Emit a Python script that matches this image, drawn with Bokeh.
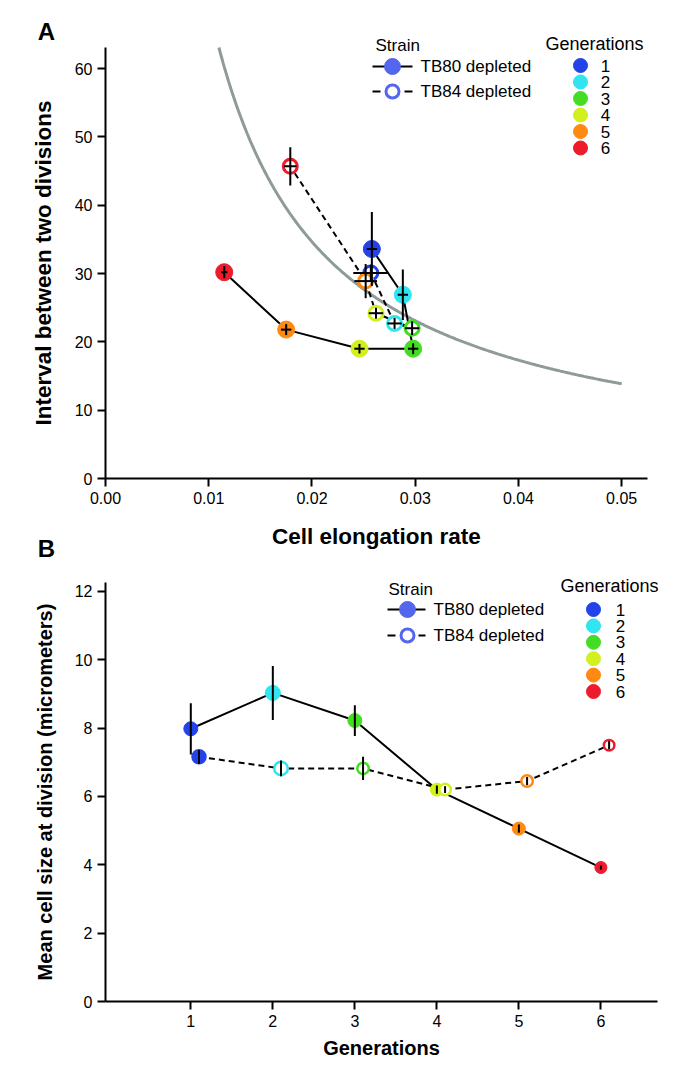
import numpy as np
from bokeh.plotting import figure
from bokeh.layouts import column
from bokeh.models import Label, Range1d, FixedTicker, NumeralTickFormatter
from bokeh.embed import file_html
from bokeh.resources import INLINE

FONT = "Liberation Sans"

# ---------------- data ----------------
generations = [1, 2, 3, 4, 5, 6]
gen_labels = ["1", "2", "3", "4", "5", "6"]
gen_colors = ["#2343e8", "#30e4f0", "#45dc25", "#d2f01e", "#ff8a12", "#ec1c2c"]
strain_labels = ["TB80 depleted", "TB84 depleted"]

# Panel A: cell elongation rate vs interval between two divisions
a_tb80_rate = [0.0258, 0.0288, 0.0298, 0.0246, 0.0175, 0.0115]
a_tb80_rate_err = [0.0005, 0.0005, 0.0005, 0.0005, 0.0005, 0.0003]
a_tb80_interval = [33.6, 26.9, 19.0, 19.0, 21.8, 30.2]
a_tb80_interval_err = [5.4, 3.7, 0.8, 0.7, 0.8, 0.9]

a_tb84_rate = [0.0257, 0.0280, 0.0297, 0.0262, 0.0252, 0.0179]
a_tb84_rate_err = [0.0017, 0.0007, 0.0007, 0.0007, 0.0011, 0.0006]
a_tb84_interval = [30.1, 22.7, 22.0, 24.2, 28.9, 45.7]
a_tb84_interval_err = [1.2, 0.8, 1.0, 0.8, 2.5, 2.8]

a_x_ticks = [0.0, 0.01, 0.02, 0.03, 0.04, 0.05]
a_y_ticks = [0, 10, 20, 30, 40, 50, 60]

# Panel B: mean cell size at division per generation
b_tb80_size = [7.98, 9.03, 8.22, 6.20, 5.06, 3.92]
b_tb80_size_err = [0.75, 0.79, 0.45, 0.12, 0.12, 0.06]
b_tb84_size = [7.16, 6.82, 6.82, 6.20, 6.45, 7.50]
b_tb84_size_err = [0.20, 0.23, 0.34, 0.10, 0.12, 0.12]

b_x_ticks = [1, 2, 3, 4, 5, 6]
b_y_ticks = [0, 2, 4, 6, 8, 10, 12]

# ---------------- styles ----------------
LEG_BLUE = "#5566ee"
CURVE = "#8f9b98"
TB84_OFFSET = 0.1
W = 678


def style_axes(p, label_px, tick_px, xstand, ystand):
    for ax in (p.xaxis[0], p.yaxis[0]):
        ax.axis_line_width = 2
        ax.axis_line_color = "black"
        ax.major_tick_line_width = 2
        ax.major_tick_line_color = "black"
        ax.major_tick_out = 8
        ax.major_tick_in = 0
        ax.minor_tick_out = 0
        ax.minor_tick_in = 0
        ax.major_label_text_font = FONT
        ax.major_label_text_font_size = f"{tick_px}px"
        ax.major_label_text_color = "black"
        ax.major_label_standoff = 5
        ax.axis_label_text_font = FONT
        ax.axis_label_text_font_style = "bold"
        ax.axis_label_text_font_size = f"{label_px}px"
        ax.axis_label_text_color = "black"
    p.xaxis[0].axis_label_standoff = xstand
    p.yaxis[0].axis_label_standoff = ystand
    p.xgrid.visible = False
    p.ygrid.visible = False
    p.outline_line_color = None
    p.background_fill_color = "white"
    p.border_fill_color = "white"


def txt(p, x, y, s, size, align="left", bold=False):
    p.add_layout(Label(x=x, y=y, text=s, text_font=FONT, text_font_size=f"{size}px",
                       text_align=align, text_baseline="middle", text_color="black",
                       text_font_style="bold" if bold else "normal"))


# ================= Panel A =================
# axis extent (data) and where it sits on the canvas (pixels)
AX0, AX1, AY0, AY1 = 0.0, 0.0525, 0.0, 63.1
A_L, A_R, A_T, A_B = 105, 647, 47, 478
A_H = 570
a_sx = (AX1 - AX0) / (A_R - A_L)
a_sy = (AY1 - AY0) / (A_B - A_T)


def ax(px):
    return AX0 + (px - A_L) * a_sx


def ay(py):
    return AY0 + (A_B - py) * a_sy


pA = figure(width=W, height=A_H, x_range=Range1d(ax(0), ax(W)), y_range=Range1d(ay(A_H), ay(0)),
            output_backend="svg", toolbar_location=None, title=None,
            min_border_left=0, min_border_right=0, min_border_top=0, min_border_bottom=0,
            x_axis_label="Cell elongation rate", y_axis_label="Interval between two divisions")
style_axes(pA, 22.5, 16, 17, 16)
pA.xaxis[0].ticker = FixedTicker(ticks=a_x_ticks)
pA.xaxis[0].formatter = NumeralTickFormatter(format="0.00")
pA.yaxis[0].ticker = FixedTicker(ticks=a_y_ticks)
pA.xaxis[0].fixed_location = AY0
pA.yaxis[0].fixed_location = AX0
pA.xaxis[0].bounds = (AX0, AX1)
pA.yaxis[0].bounds = (AY0, AY1)

# reference curve: doubling time = ln2 / rate
cx = np.linspace(np.log(2) / AY1, 0.05, 300)
pA.line(cx, np.log(2) / cx, line_color=CURVE, line_width=3)

pA.line(a_tb80_rate, a_tb80_interval, line_color="black", line_width=2)
pA.line(a_tb84_rate, a_tb84_interval, line_color="black", line_width=2, line_dash="6 4")

pA.scatter(a_tb80_rate, a_tb80_interval, size=17, fill_color=gen_colors, line_color=gen_colors)
pA.scatter(a_tb84_rate, a_tb84_interval, size=14, fill_color="white", line_color=gen_colors,
           line_width=3)

for xs, ys, xe, ye in ((a_tb80_rate, a_tb80_interval, a_tb80_rate_err, a_tb80_interval_err),
                       (a_tb84_rate, a_tb84_interval, a_tb84_rate_err, a_tb84_interval_err)):
    xs_, ys_, xe_, ye_ = map(np.array, (xs, ys, xe, ye))
    pA.segment(x0=xs_ - xe_, y0=ys_, x1=xs_ + xe_, y1=ys_, line_color="black", line_width=2)
    pA.segment(x0=xs_, y0=ys_ - ye_, x1=xs_, y1=ys_ + ye_, line_color="black", line_width=2)

# legend A
txt(pA, ax(375), ay(45), "Strain", 17)
pA.segment(x0=[ax(372)], y0=[ay(66)], x1=[ax(412)], y1=[ay(66)], line_color="black", line_width=2)
pA.scatter([ax(392)], [ay(66)], size=16, fill_color=LEG_BLUE, line_color=LEG_BLUE)
txt(pA, ax(420), ay(66), strain_labels[0], 17)
pA.segment(x0=[ax(372), ax(404)], y0=[ay(91)] * 2, x1=[ax(380), ax(412)], y1=[ay(91)] * 2,
           line_color="black", line_width=2)
pA.scatter([ax(392)], [ay(91)], size=13, fill_color="white", line_color=LEG_BLUE, line_width=3)
txt(pA, ax(420), ay(91), strain_labels[1], 17)

txt(pA, ax(545), ay(43), "Generations", 18)
for i, (lab, col) in enumerate(zip(gen_labels, gen_colors)):
    yy = ay(65 + i * 16.5)
    pA.scatter([ax(580)], [yy], size=14, fill_color=col, line_color=col)
    txt(pA, ax(605), yy, lab, 17, align="center")

txt(pA, ax(46), ay(31), "A", 24, align="center", bold=True)
txt(pA, ax(46), ay(548), "B", 24, align="center", bold=True)

# ================= Panel B =================
BX0, BX1, BY0, BY1 = -0.04, 6.69, 0.0, 12.26
B_OFF = A_H  # page y where figure B starts
B_L, B_R, B_T, B_B = 105, 657, 582 - B_OFF, 1001 - B_OFF
B_H = 500
b_sx = (BX1 - BX0) / (B_R - B_L)
b_sy = (BY1 - BY0) / (B_B - B_T)


def bx(px):
    return BX0 + (px - B_L) * b_sx


def by(py_page):
    return BY0 + (B_B - (py_page - B_OFF)) * b_sy


pB = figure(width=W, height=B_H, x_range=Range1d(bx(0), bx(W)),
            y_range=Range1d(by(B_OFF + B_H), by(B_OFF)),
            output_backend="svg", toolbar_location=None, title=None,
            min_border_left=0, min_border_right=0, min_border_top=0, min_border_bottom=0,
            x_axis_label="Generations", y_axis_label="Mean cell size at division (micrometers)")
style_axes(pB, 20, 16, 7, 16)
pB.xaxis[0].ticker = FixedTicker(ticks=b_x_ticks)
pB.yaxis[0].ticker = FixedTicker(ticks=b_y_ticks)
pB.xaxis[0].fixed_location = BY0
pB.yaxis[0].fixed_location = BX0
pB.xaxis[0].bounds = (BX0, BX1)
pB.yaxis[0].bounds = (BY0, BY1)

g80 = np.array(generations, dtype=float)
g84 = g80 + TB84_OFFSET
b_tb80_sizes = [14, 15, 14, 13, 13, 12]
b_tb84_sizes = [13, 13.5, 11.5, 11.5, 11.5, 10.5]
b_tb84_fill = [gen_colors[0], "white", "white", "white", "white", "white"]

pB.line(g80, b_tb80_size, line_color="black", line_width=2)
pB.line(g84, b_tb84_size, line_color="black", line_width=2, line_dash="6 4")

pB.scatter(g80, b_tb80_size, size=b_tb80_sizes, fill_color=gen_colors, line_color=gen_colors)
pB.scatter(g84, b_tb84_size, size=b_tb84_sizes, fill_color=b_tb84_fill, line_color=gen_colors,
           line_width=2.5)

for xs, ys, ye in ((g80, b_tb80_size, b_tb80_size_err), (g84, b_tb84_size, b_tb84_size_err)):
    ys_, ye_ = np.array(ys), np.array(ye)
    pB.segment(x0=xs, y0=ys_ - ye_, x1=xs, y1=ys_ + ye_, line_color="black", line_width=2)

# legend B
txt(pB, bx(388), by(589), "Strain", 17)
pB.segment(x0=[bx(387)], y0=[by(609)], x1=[bx(425)], y1=[by(609)], line_color="black", line_width=2)
pB.scatter([bx(407)], [by(609)], size=16, fill_color=LEG_BLUE, line_color=LEG_BLUE)
txt(pB, bx(433), by(609), strain_labels[0], 17)
pB.segment(x0=[bx(387), bx(418)], y0=[by(635)] * 2, x1=[bx(395), bx(425)], y1=[by(635)] * 2,
           line_color="black", line_width=2)
pB.scatter([bx(407)], [by(635)], size=13, fill_color="white", line_color=LEG_BLUE, line_width=3)
txt(pB, bx(433), by(635), strain_labels[1], 17)

txt(pB, bx(560), by(585), "Generations", 18)
for i, (lab, col) in enumerate(zip(gen_labels, gen_colors)):
    yy = by(609 + i * 16.4)
    pB.scatter([bx(593)], [yy], size=14, fill_color=col, line_color=col)
    txt(pB, bx(620), yy, lab, 17, align="center")

layout = column(pA, pB, spacing=0)
open("out.html", "w").write(file_html(layout, INLINE))
